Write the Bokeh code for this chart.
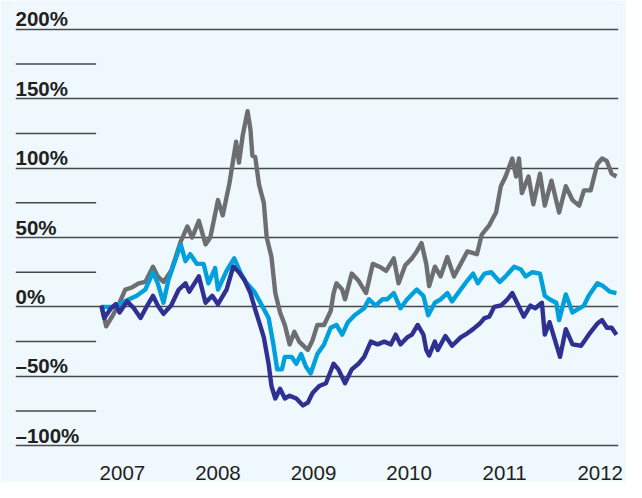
from bokeh.plotting import figure
from bokeh.models import FixedTicker, Range1d, ColumnDataSource
from bokeh.core.properties import value
from bokeh.embed import file_html
from bokeh.resources import INLINE

# ---- data (fractional years, % change) ----
gray_t = [2006.78, 2006.83, 2006.90, 2006.97, 2007.03, 2007.10, 2007.17, 2007.24, 2007.32, 2007.37,
          2007.43, 2007.51, 2007.61, 2007.68, 2007.73, 2007.80, 2007.87, 2007.92, 2008.00, 2008.05,
          2008.12, 2008.19, 2008.22, 2008.26, 2008.31, 2008.34, 2008.36, 2008.39, 2008.43, 2008.48,
          2008.51, 2008.56, 2008.60, 2008.65, 2008.70, 2008.75, 2008.80, 2008.85, 2008.94, 2008.99,
          2009.04, 2009.11, 2009.18, 2009.21, 2009.24, 2009.30, 2009.33, 2009.40, 2009.47, 2009.55,
          2009.62, 2009.69, 2009.76, 2009.84, 2009.89, 2009.96, 2010.03, 2010.08, 2010.13, 2010.18,
          2010.21, 2010.27, 2010.33, 2010.40, 2010.47, 2010.54, 2010.61, 2010.71, 2010.76, 2010.84,
          2010.91, 2010.96, 2011.01, 2011.08, 2011.12, 2011.15, 2011.18, 2011.25, 2011.30, 2011.37,
          2011.42, 2011.49, 2011.57, 2011.64, 2011.71, 2011.78, 2011.83, 2011.90, 2011.97, 2012.02,
          2012.07, 2012.12, 2012.17]
gray_v = [1, -14, -6, 3, 12.5, 14, 17, 18, 29, 22,
          18, 26, 47, 58, 50, 62, 45, 50, 77, 66,
          89, 119, 104, 124, 141, 128, 109, 108, 88, 75,
          50, 36, 10, -4, -13, -27, -18, -25, -31, -24,
          -13, -13, -3, 10, 17, 12.5, 5.5, 24, 19, 10,
          31, 29, 26, 35, 17, 30, 35, 40, 46, 31,
          15, 29, 22, 36, 22, 31, 40, 38, 52, 59,
          68, 87, 94, 107, 94, 107, 82, 94, 74, 96,
          73, 91, 68, 87, 77, 73, 84, 84, 103, 107,
          105, 96, 94]

blue_t = [2006.78, 2006.90, 2007.00, 2007.07, 2007.15, 2007.24, 2007.32, 2007.37, 2007.43, 2007.48,
          2007.54, 2007.61, 2007.66, 2007.71, 2007.78, 2007.85, 2007.90, 2007.97, 2008.00, 2008.09,
          2008.17, 2008.24, 2008.29, 2008.38, 2008.46, 2008.53, 2008.58, 2008.62, 2008.67, 2008.70,
          2008.77, 2008.82, 2008.87, 2008.92, 2008.97, 2009.04, 2009.11, 2009.18, 2009.24, 2009.30,
          2009.36, 2009.43, 2009.53, 2009.58, 2009.65, 2009.72, 2009.77, 2009.84, 2009.91, 2009.98,
          2010.08, 2010.15, 2010.20, 2010.27, 2010.33, 2010.40, 2010.45, 2010.54, 2010.61, 2010.67,
          2010.72, 2010.79, 2010.86, 2010.95, 2011.01, 2011.10, 2011.17, 2011.22, 2011.29, 2011.37,
          2011.42, 2011.47, 2011.54, 2011.57, 2011.64, 2011.71, 2011.78, 2011.83, 2011.88, 2011.97,
          2012.03, 2012.10, 2012.17]
blue_v = [0, 0, 3, 5.5, 8, 12.5, 25, 17, 3, 19,
          31, 45, 33, 38, 31, 31, 17, 28, 12.5, 26,
          35, 24, 18, 11, 1, -8, -27, -45, -45, -36,
          -36, -41, -34, -43, -48, -34, -27, -15, -13, -20,
          -11, -6, -1, 5.5, 1, 5.5, 5.5, 10, -1, 5.5,
          12.5, 8, -6, 3, 5.5, 10, 4, 12.5, 19, 24,
          17, 24, 25, 18, 22, 29, 27, 22, 25, 24,
          8, 5.5, 3, -9.5, 9, -4, -1, 1, 8, 17,
          15, 11, 10]

navy_t = [2006.78, 2006.81, 2006.88, 2006.93, 2006.97, 2007.05, 2007.12, 2007.19, 2007.26, 2007.32,
          2007.37, 2007.43, 2007.51, 2007.59, 2007.66, 2007.70, 2007.80, 2007.87, 2007.94, 2008.00,
          2008.09, 2008.16, 2008.22, 2008.28, 2008.34, 2008.39, 2008.44, 2008.48, 2008.53, 2008.56,
          2008.60, 2008.65, 2008.70, 2008.75, 2008.82, 2008.89, 2008.94, 2008.99, 2009.06, 2009.13,
          2009.21, 2009.26, 2009.33, 2009.40, 2009.47, 2009.53, 2009.60, 2009.67, 2009.74, 2009.81,
          2009.86, 2009.91, 2009.98, 2010.03, 2010.09, 2010.15, 2010.18, 2010.21, 2010.27, 2010.30,
          2010.38, 2010.45, 2010.54, 2010.61, 2010.67, 2010.74, 2010.79, 2010.84, 2010.89, 2010.96,
          2011.03, 2011.08, 2011.13, 2011.20, 2011.27, 2011.32, 2011.39, 2011.42, 2011.47, 2011.54,
          2011.58, 2011.64, 2011.71, 2011.80, 2011.88, 2011.97, 2012.02, 2012.07, 2012.12, 2012.17]
navy_v = [1, -8, -1, 2, -4, 4, -1, -8, 1, 8,
          1, -5, 1, 12.5, 17, 11, 22, 3, 8, 2,
          12.5, 29, 25, 19, 10, -2, -13, -22, -41, -57,
          -66, -59, -66, -64, -66, -71, -69, -62, -57, -55,
          -41, -45, -55, -45, -41, -36, -25, -27, -25, -27,
          -20, -27, -22, -20, -13, -20, -31, -35, -25, -31,
          -21, -28, -22, -19, -16, -12, -8, -7, 0, 1,
          5.5, 10, 3, -7, 1, -1, 3, -20, -11, -27,
          -36, -16, -27, -28, -20, -12, -9.5, -15, -15, -20]

years = [2007, 2008, 2009, 2010, 2011, 2012]
major_ticks = [-100, -50, 0, 50, 100, 150, 200]
minor_ticks = [-75, -25, 25, 75, 125, 175]
tick_labels = ["\u2013100%", "\u201350%", "0%", "50%", "100%", "150%", "200%"]

# ---- styles ----
BG = "#eef8fd"
GRID = "#474747"
TXT = "#231f20"
FONT = "Liberation Sans"

x0, x1 = 2005.8813, 2012.1915
y0, y1 = -103.48, 220.83

p = figure(width=626, height=482, output_backend="svg", toolbar_location=None,
           x_range=Range1d(x0, x1), y_range=Range1d(y0, y1),
           min_border_left=15, min_border_right=8, min_border_top=0, min_border_bottom=30,
           background_fill_color=BG, border_fill_color=BG, outline_line_color=None)

p.yaxis.visible = False
p.xgrid.visible = False
p.ygrid.ticker = FixedTicker(ticks=major_ticks)
p.ygrid.grid_line_color = GRID
p.ygrid.grid_line_width = 1.5

# short intermediate lines at the left
short_end = 2006.7248
p.segment(x0=[x0] * len(minor_ticks), y0=minor_ticks, x1=[short_end] * len(minor_ticks), y1=minor_ticks,
          line_color=GRID, line_width=1.5)

# y labels above lines
src = ColumnDataSource(dict(x=[x0] * len(major_ticks), y=major_ticks, t=tick_labels))
p.text(x="x", y="y", text="t", source=src, text_baseline="bottom", text_align="left",
       y_offset=1, text_font=value(FONT), text_font_style="bold", text_font_size="20.5px",
       text_color=TXT)

# x axis
xa = p.xaxis[0]
xa.ticker = FixedTicker(ticks=years)
xa.axis_line_color = None
xa.major_tick_line_color = None
xa.minor_tick_line_color = None
xa.major_label_standoff = 9
xa.major_label_text_font = FONT
xa.major_label_text_font_size = "20.5px"
xa.major_label_text_color = TXT

# series
p.line(gray_t, gray_v, line_color="#6d6e70", line_width=4.4, line_join="round")
p.line(blue_t, blue_v, line_color="#00a0dc", line_width=4.4, line_join="round")
p.line(navy_t, navy_v, line_color="#2e3192", line_width=4.4, line_join="round")

open("out.html", "w").write(file_html(p, INLINE))
